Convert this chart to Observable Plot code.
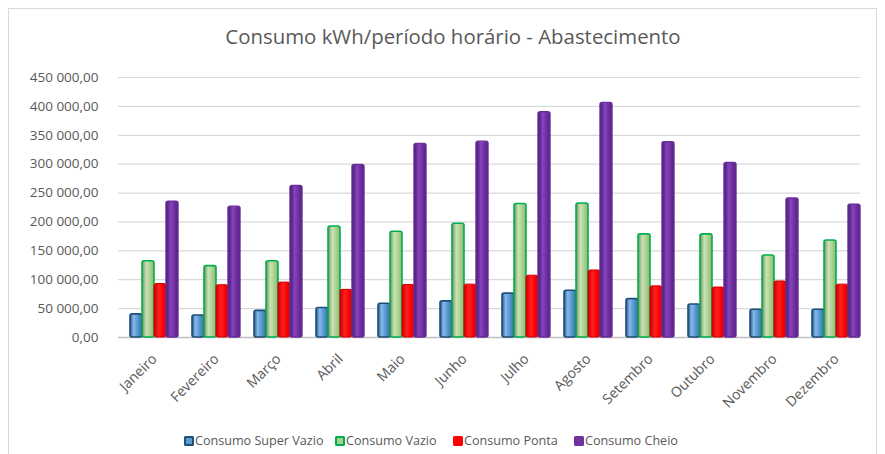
<!DOCTYPE html>
<html>
<head>
<meta charset="utf-8">
<script src="https://cdn.jsdelivr.net/npm/d3@7"></script>
<script src="https://cdn.jsdelivr.net/npm/@observablehq/plot@0.6"></script>
<style>
  html, body { margin: 0; padding: 0; background: #fff; }
  #wrap { position: relative; width: 885px; height: 454px; overflow: hidden; font-family: "Open Sans", sans-serif; }
  #frame { position: absolute; left: 8px; top: 8px; width: 869px; height: 470px; border: 1px solid #d9d9d9; box-sizing: border-box; }
  #title { position: absolute; left: 0; width: 906px; top: 22px; text-align: center; font-size: 20.4px; color: #595959; }
  #back, #front { position: absolute; left: 0; top: 60px; }
  .lg { position: absolute; top: 434px; font-size: 12.6px; color: #595959; line-height: 13px; white-space: nowrap; }
  .sw { display: inline-block; width: 10px; height: 10px; box-sizing: border-box; border-radius: 1.5px; vertical-align: -1px; margin-right: 1px; }
</style>
</head>
<body>
<div id="wrap">
  <div id="frame"></div>
  <div id="title">Consumo kWh/período horário - Abastecimento</div>
  <div id="back"></div>
  <div id="front"></div>
  <div id="legend"></div>
</div>
<script>
const months = ["Janeiro","Fevereiro","Março","Abril","Maio","Junho","Julho","Agosto","Setembro","Outubro","Novembro","Dezembro"];
const seriesNames = ["Consumo Super Vazio","Consumo Vazio","Consumo Ponta","Consumo Cheio"];
const superVazio = [40000, 38000, 46000, 51000, 58500, 62500, 76000, 81000, 66500, 57000, 48000, 48000];
const vazio      = [132000, 123500, 132000, 192000, 183000, 197000, 231000, 232000, 178500, 178500, 142000, 168000];
const ponta      = [92500, 90500, 95000, 82500, 91000, 91500, 107000, 116000, 88500, 86500, 97000, 91500];
const cheio      = [235000, 226500, 262500, 298500, 335000, 339000, 390000, 406000, 338000, 302000, 240500, 230000];
const yTicks = [0, 50000, 100000, 150000, 200000, 250000, 300000, 350000, 400000, 450000];

const seriesValues = [superVazio, vazio, ponta, cheio];
const rows = [];
seriesNames.forEach((s, i) => months.forEach((m, j) => rows.push({month: m, series: s, value: seriesValues[i][j]})));

const styles = [
  {fill: "url(#g0)", stroke: "#1f4e79", sw: 1.6, legFill: "#5b9bd5", legStroke: "#1f4e79"},
  {fill: "url(#g1)", stroke: "#00b050", sw: 1.6, legFill: "#a9d18e", legStroke: "#00b050"},
  {fill: "url(#g2)", stroke: "#d40000", sw: 1, legFill: "#ff0000", legStroke: "#ff0000"},
  {fill: "url(#g3)", stroke: "#6a2d99", sw: 1.4, legFill: "#7030a0", legStroke: "#7030a0"}
];

const loc = d3.formatLocale({decimal: ",", thousands: "\u00a0", grouping: [3], currency: ["", ""]});
const fmt = loc.format(",.2f");
const baseStyle = {fontFamily: "Open Sans, sans-serif", fontSize: "13px", color: "#595959", background: "transparent"};

// Background: value axis and gridlines
const back = Plot.plot({
  width: 885, height: 360,
  marginTop: 17, marginBottom: 83, marginLeft: 118, marginRight: 25,
  style: baseStyle,
  x: {axis: null},
  y: {domain: [0, 450000], ticks: yTicks, tickFormat: fmt, tickSize: 0, tickPadding: 20, label: null},
  marks: [
    Plot.ruleY(yTicks.slice(1), {stroke: "#d9d9d9", strokeWidth: 1.2}),
    Plot.ruleY([0], {stroke: "#c0c0c0", strokeWidth: 1.5})
  ]
});
d3.select(back).selectAll("g[aria-label='y-axis tick label']").style("font-size", "13.5px");
document.getElementById("back").appendChild(back);

// Foreground: grouped bars and month labels
const front = Plot.plot({
  width: 885, height: 360,
  marginTop: 17, marginBottom: 83, marginLeft: 121, marginRight: 17,
  style: baseStyle,
  fx: {domain: months, padding: 0, label: null, tickSize: 0, tickRotate: -45, tickPadding: 19},
  x: {domain: seriesNames, paddingInner: 0, paddingOuter: 0.54, axis: null},
  y: {domain: [0, 450000], axis: null},
  marks: seriesNames.map((s, i) => Plot.barY(rows.filter(d => d.series === s), {
    fx: "month", x: "series", y: "value",
    fill: styles[i].fill, stroke: styles[i].stroke, strokeWidth: styles[i].sw, rx: 2
  }))
});

const grads = [
  [["0%", "#24588c"], ["30%", "#86b8e8"], ["60%", "#5b9bd5"], ["100%", "#356fa8"]],
  [["0%", "#6d8c55"], ["35%", "#c9e3b8"], ["70%", "#a9d18e"], ["100%", "#8db36f"]],
  [["0%", "#c80000"], ["40%", "#ff2020"], ["75%", "#ff0000"], ["100%", "#d80000"]],
  [["0%", "#45196b"], ["40%", "#8544bd"], ["70%", "#7030a0"], ["100%", "#57217f"]]
];
const fsvg = d3.select(front);
fsvg.selectAll("g[aria-label='fx-axis tick label']").style("font-size", "14px");
const defs = fsvg.insert("defs", ":first-child");
grads.forEach((g, i) => {
  const lg = defs.append("linearGradient").attr("id", "g" + i).attr("x1", "0").attr("x2", "1").attr("y1", "0").attr("y2", "0");
  g.forEach(([o, c]) => lg.append("stop").attr("offset", o).attr("stop-color", c));
});
document.getElementById("front").appendChild(front);

const legendX = [184, 335, 453, 574];
const legend = document.getElementById("legend");
seriesNames.forEach((s, i) => {
  const item = document.createElement("div");
  item.className = "lg";
  item.style.left = legendX[i] + "px";
  const sw = document.createElement("span");
  sw.className = "sw";
  sw.style.background = styles[i].legFill;
  sw.style.border = "2px solid " + styles[i].legStroke;
  item.appendChild(sw);
  item.appendChild(document.createTextNode(s));
  legend.appendChild(item);
});
</script>
</body>
</html>
